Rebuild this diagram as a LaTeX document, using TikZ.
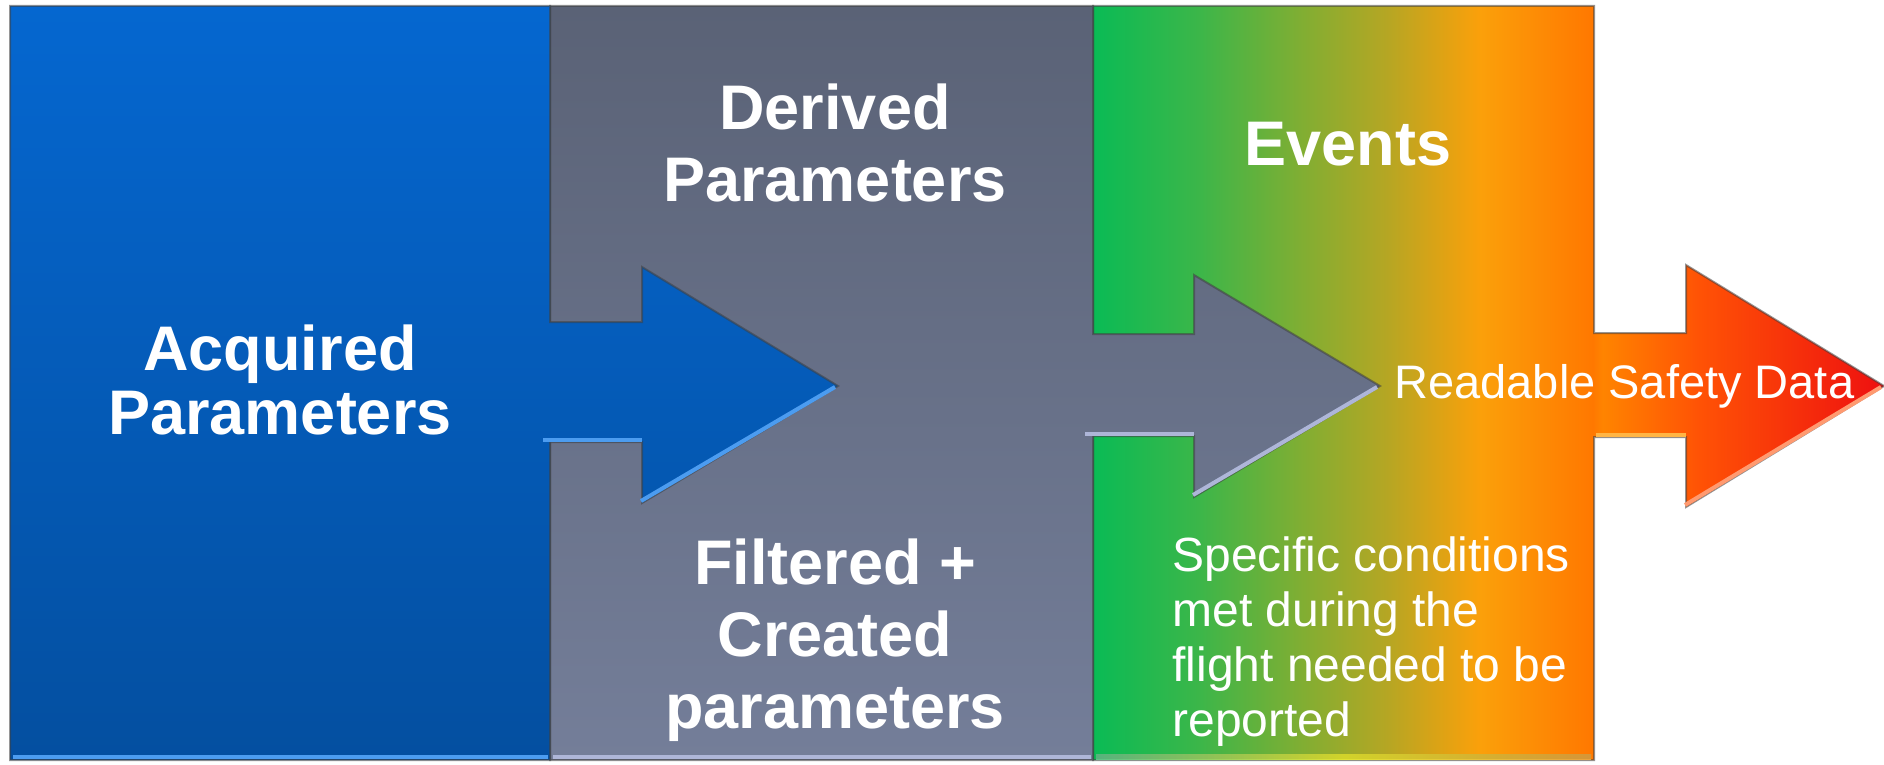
\documentclass[tikz,border=0pt]{standalone}
\usepackage{fontspec}
\setmainfont{Liberation Sans}
\definecolor{bluetop}{HTML}{0567D0}
\definecolor{bluebot}{HTML}{044FA0}
\definecolor{graytop}{HTML}{5A6276}
\definecolor{graybot}{HTML}{747E99}
\definecolor{gA}{HTML}{0ABB55}
\definecolor{gB}{HTML}{3CB649}
\definecolor{gC}{HTML}{7FAE33}
\definecolor{gD}{HTML}{B7A623}
\definecolor{gE}{HTML}{FBA00A}
\definecolor{gF}{HTML}{FF7800}
\definecolor{gG}{HTML}{FF8400}
\definecolor{gH}{HTML}{FF5205}
\definecolor{gI}{HTML}{EE1010}
\definecolor{bluehi}{HTML}{4C9CF0}
\definecolor{grayhi}{HTML}{AEB6D8}
\definecolor{orangehi}{HTML}{FFB545}
\definecolor{redhi}{HTML}{FF9A70}
\pgfdeclarehorizontalshading{evshade}{100bp}{
  color(0bp)=(gA); color(25bp)=(gA); color(31.75bp)=(gB); color(38.05bp)=(gC);
  color(43.75bp)=(gD); color(49.45bp)=(gE); color(56.6bp)=(gF); color(57.2bp)=(gG);
  color(63.35bp)=(gH); color(75bp)=(gI); color(100bp)=(gI)}
\tikzset{
  panel/.style={draw=black!75, draw opacity=0.55, line width=1pt, line join=miter},
  hiline/.style={line width=2pt, line cap=butt},
  boldtxt/.style={text=white, font=\fontsize{31.5}{32}\selectfont\bfseries, align=center, inner sep=0pt},
  boldtxtwide/.style={boldtxt, font=\fontsize{31.5}{36}\selectfont\bfseries},
  plaintxt/.style={text=white, font=\fontsize{24}{27.5}\selectfont, align=left, inner sep=0pt},
  arrowtxt/.style={text=white, font=\fontsize{23.5}{27}\selectfont, inner sep=0pt}
}
\begin{document}
\begin{tikzpicture}[x=0.5pt, y=-0.5pt]
\useasboundingbox (0,0) rectangle (1884,765);
\fill[white] (0,0) rectangle (1884,765);
% green/orange panel with red arrow
\path[panel, shading=evshade]
  (1093,6) -- (1594,6) -- (1594,333) -- (1686,333) -- (1686,265) -- (1884,386)
  -- (1686,507) -- (1686,437) -- (1594,437) -- (1594,760) -- (1093,760) -- cycle;
\fill[left color=gA!60!white, right color=orangehi, middle color=yellow!80!white, opacity=0.8]
  (1096,754) rectangle (1591,759);
\draw[hiline, orangehi] (1596,435) -- (1686,435);
\draw[hiline, redhi] (1685,505) -- (1881,387);
% gray panel with arrow
\path[panel, top color=graytop, bottom color=graybot]
  (550,6) -- (1093,6) -- (1093,334) -- (1194,334) -- (1194,275) -- (1380,386)
  -- (1194,497) -- (1194,436) -- (1093,436) -- (1093,760) -- (550,760) -- cycle;
\draw[hiline, grayhi] (553,757) -- (1091,757);
\draw[hiline, grayhi] (1085,434) -- (1194,434);
\draw[hiline, grayhi] (1193,495) -- (1377,387);
% blue panel with arrow
\path[panel, top color=bluetop, bottom color=bluebot]
  (10,6) -- (550,6) -- (550,322) -- (642,322) -- (642,267) -- (838,386)
  -- (642,503) -- (642,442) -- (550,442) -- (550,760) -- (10,760) -- cycle;
\draw[hiline, bluehi] (13,757) -- (548,757);
\draw[hiline, bluehi] (543,440) -- (642,440);
\draw[hiline, bluehi] (641,501) -- (835,387);
% texts
\node[boldtxt, anchor=north] (acq) at (280,324) {Acquired\\Parameters};
\node[boldtxtwide, anchor=north] (der) at (835,83) {Derived\\Parameters};
\node[boldtxtwide, anchor=north] (fil) at (835,538) {Filtered +\\Created\\parameters};
\node[boldtxt, anchor=north] (evt) at (1348,122) {Events};
\node[plaintxt, anchor=north west] (spec) at (1172,536) {Specific conditions\\met during the\\flight needed to be\\reported};
\node[arrowtxt, anchor=base west] (rsd) at (1394,398) {Readable Safety Data};
\end{tikzpicture}
\end{document}
